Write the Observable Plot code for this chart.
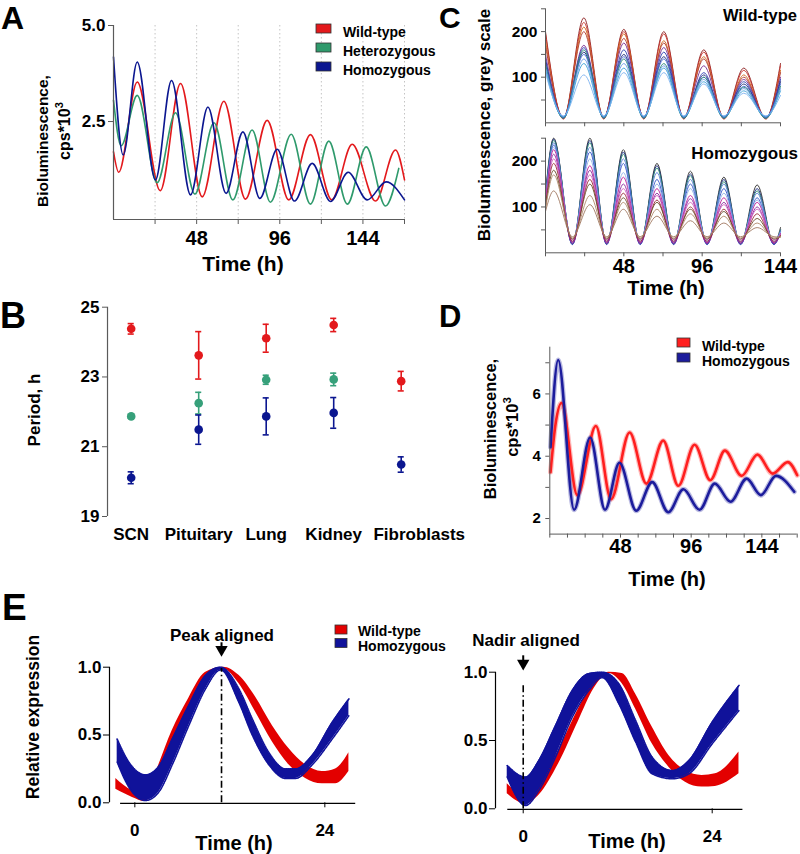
<!DOCTYPE html>
<html><head><meta charset="utf-8">
<script src="https://cdn.jsdelivr.net/npm/d3@7"></script>
<script src="https://cdn.jsdelivr.net/npm/@observablehq/plot@0.6"></script>
<style>
body{margin:0;background:#fff;}
#fig{position:relative;width:800px;height:854px;overflow:hidden;background:#fff;}
</style></head>
<body><div id="fig"></div>
<script>
// ---------------- DATA ----------------
// Panel A: bioluminescence (cps*10^3), extrema
const aGenotypes = ["Wild-type", "Heterozygous", "Homozygous"];
const aColors = ["#e3191c", "#2f9a6c", "#0b1690"];
const aWtT = [0, 3, 13.7, 27, 38.7, 51.2, 63.7, 76.2, 88.7, 101.2, 113.7, 126, 137.8, 151.3, 162.8, 168];
const aWtV = [1.71, 1.18, 3.53, 0.70, 3.49, 0.54, 3.03, 0.48, 2.53, 0.46, 2.16, 0.46, 1.91, 0.43, 1.76, 0.98];
const aHetT = [0, 4.4, 13.7, 25.2, 35.8, 47, 58, 68.9, 80, 90.6, 102.6, 113.7, 124.3, 135, 145.9, 157, 164.7];
const aHetV = [3.05, 1.87, 3.18, 0.91, 2.73, 0.61, 2.47, 0.46, 2.28, 0.40, 2.17, 0.35, 1.99, 0.35, 1.84, 0.30, 1.28];
const aHomT = [0, 5.6, 13.7, 24.2, 33.5, 44.5, 54.5, 65, 74.7, 84.5, 94.5, 104.5, 114.7, 125.3, 135.5, 146.5, 157.4, 168];
const aHomV = [4.18, 1.63, 4.05, 0.98, 3.57, 0.59, 2.88, 0.63, 2.23, 0.50, 1.78, 0.43, 1.41, 0.42, 1.18, 0.46, 0.93, 0.46];
const aXTicks = [24, 48, 72, 96, 120, 144, 168];
const aXLabels = [48, 96, 144];
const aYTicks = [2.5, 5.0];

// Panel B: period (h) mean ± error
const bTissues = ["SCN", "Pituitary", "Lung", "Kidney", "Fibroblasts"];
const bWtMean = [24.38, 23.62, 24.11, 24.49, 22.88];
const bWtErr = [0.15, 0.68, 0.40, 0.19, 0.28];
const bHetMean = [21.87, 22.25, 22.92, 22.93, null];
const bHetErr = [0.05, 0.31, 0.13, 0.18, null];
const bHomMean = [20.11, 21.49, 21.87, 21.97, 20.49];
const bHomErr = [0.17, 0.42, 0.53, 0.44, 0.22];
const bYTicks = [19, 21, 23, 25];

// Panel C: individual traces (grey scale); peak/trough heights per trace
const cWtPeakT = [23.5, 48, 72.5, 97, 121.5];
const cWtTroughT = [11, 35.7, 60.2, 84.7, 109.3, 135];
const cWtColors = ["#8b1c1c", "#c8332a", "#d2691e", "#b03a2e", "#7b2d8e", "#2f3fb0", "#1f2a7a", "#4a6fd8", "#2b8a78", "#6a9ce8", "#3aa0d8", "#7db3f0"];
const cWtStart = [200, 195, 180, 170, 150, 140, 135, 130, 128, 120, 115, 110];
const cWtPeaks = [
  [230, 205, 200, 160, 120], [220, 200, 195, 155, 115], [210, 195, 180, 145, 105],
  [200, 185, 175, 140, 100], [170, 175, 165, 125, 95], [165, 160, 155, 110, 90],
  [155, 150, 145, 105, 85], [150, 145, 140, 100, 80], [160, 140, 130, 100, 78],
  [140, 130, 125, 95, 75], [130, 120, 120, 90, 70], [105, 110, 110, 85, 65]];
const cWtTrough = [10, 8, 10, 12, 12, 10, 12, 14, 10, 14, 12, 15];
const cWtEnd = [130, 125, 115, 110, 100, 95, 90, 85, 80, 75, 70, 60];

const cHomPeakT = [5, 27.2, 47.7, 68.3, 88.8, 109.3, 129.7];
const cHomTroughT = [16.5, 37.5, 58, 78.5, 99, 119.5, 140];
const cHomColors = ["#2a2a2a", "#1b2a80", "#2e8b6e", "#5b7fd8", "#3556c8", "#8fb0e8", "#c0209a", "#8a2ca0", "#d060c0", "#9a2a3a", "#6a4a2a", "#b08a6a", "#a07860"];
const cHomStart = [130, 125, 120, 118, 115, 112, 110, 108, 105, 102, 100, 95, 90];
const cHomPeaks = [
  [250, 250, 225, 195, 178, 165, 148], [248, 245, 220, 190, 172, 160, 140],
  [245, 240, 215, 185, 168, 155, 135], [240, 230, 205, 175, 160, 150, 130],
  [235, 220, 195, 160, 150, 140, 120], [230, 205, 175, 150, 140, 130, 115],
  [225, 190, 165, 140, 125, 120, 110], [215, 180, 150, 130, 118, 110, 100],
  [205, 170, 140, 125, 110, 105, 95], [195, 160, 130, 115, 100, 95, 85],
  [180, 150, 120, 110, 95, 90, 75], [170, 125, 110, 95, 85, 80, 65],
  [135, 105, 95, 80, 70, 65, 55]];
const cHomTrough = [20, 18, 20, 22, 18, 25, 22, 20, 28, 25, 30, 32, 35];
const cHomEnd = [55, 50, 50, 48, 45, 45, 42, 40, 40, 38, 36, 35, 34];
const cXTicks = [0, 24, 48, 72, 96, 120, 144];
const cXLabels = [48, 96, 144];
const cYTicks = [50, 100, 150, 200, 250];

// Panel D: bioluminescence (cps*10^3)
const dGenotypes = ["Wild-type", "Homozygous"];
const dWtT = [0.5, 3.9, 8, 18.7, 31.3, 41.6, 54.2, 65.6, 77, 87.3, 98.3, 109, 118.9, 130.3, 141, 151.3, 161.6, 168];
const dWtV = [3.49, 5.03, 5.71, 2.75, 4.97, 2.62, 4.76, 3.12, 4.50, 3.05, 4.37, 3.23, 4.18, 3.37, 4.05, 3.44, 3.81, 3.39];
const dHomT = [0.5, 5.7, 16.5, 27.4, 37.5, 47.3, 58.7, 69.5, 80.5, 90.7, 101.7, 112, 122.7, 133.7, 143.3, 153.6, 166];
const dHomV = [4.29, 7.09, 2.28, 4.60, 2.28, 3.79, 2.25, 3.17, 2.20, 2.94, 2.28, 3.12, 2.54, 3.28, 2.75, 3.37, 2.86];
const dXTicks = [0, 12, 24, 36, 48, 60, 72, 84, 96, 108, 120, 132, 144, 156, 168];
const dXLabels = [48, 96, 144];
const dYTicks = [2, 3, 4, 5, 6, 7];

// Panel E: relative expression bands (lower, upper)
const eLWtT  = [-2.4, -0.3, 1.3, 2.6, 4.7, 6.8, 8.9, 11.2, 13.15, 15.25, 17.36, 19.46, 21.57, 23.67, 25.36, 27.04];
const eLWtLo = [0.10, 0.04, 0.01, 0.11, 0.40, 0.66, 0.89, 0.985, 0.88, 0.67, 0.45, 0.28, 0.18, 0.14, 0.14, 0.23];
const eLWtHi = [0.18, 0.09, 0.07, 0.22, 0.53, 0.77, 0.96, 1.00, 0.94, 0.78, 0.57, 0.40, 0.28, 0.23, 0.25, 0.37];
const eLHomT  = [-2.23, -0.75, 1.35, 3.04, 4.72, 6.82, 8.93, 10.83, 13.15, 14.83, 16.94, 19.04, 20.3, 22.4, 24.93, 27.04];
const eLHomLo = [0.30, 0.115, 0.017, 0.08, 0.28, 0.57, 0.84, 0.98, 0.74, 0.50, 0.28, 0.18, 0.18, 0.28, 0.47, 0.643];
const eLHomHi = [0.47, 0.30, 0.206, 0.27, 0.47, 0.72, 0.94, 1.00, 0.84, 0.62, 0.37, 0.25, 0.25, 0.35, 0.594, 0.766];
const eRWtT  = [-2.03, 0.29, 2, 4.5, 7, 9, 10.88, 12.57, 14.27, 16.38, 18.5, 20.6, 22.7, 24.4, 27.4];
const eRWtLo = [0.11, 0.036, 0.10, 0.33, 0.64, 0.88, 0.99, 0.915, 0.73, 0.476, 0.305, 0.195, 0.159, 0.164, 0.256];
const eRWtHi = [0.183, 0.097, 0.18, 0.43, 0.73, 0.94, 1.00, 0.99, 0.84, 0.598, 0.39, 0.28, 0.244, 0.256, 0.415];
const eRHomT  = [-2.03, 0.29, 1.98, 4.1, 6.22, 8.34, 10.03, 12.15, 14.27, 16.38, 18.93, 21.04, 24.0, 27.4];
const eRHomLo = [0.232, 0.024, 0.134, 0.378, 0.67, 0.866, 0.96, 0.768, 0.49, 0.256, 0.22, 0.256, 0.476, 0.72];
const eRHomHi = [0.317, 0.232, 0.354, 0.61, 0.866, 0.99, 1.00, 0.915, 0.647, 0.378, 0.28, 0.354, 0.635, 0.903];
const eYTicks = [0, 0.5, 1.0];
const eXTicks = [0, 24];
const eLeftAlignT = 10.95;   // peak aligned marker
const eRightAlignT = 0;      // nadir aligned marker

// ---------------- HELPERS ----------------
const FONT = "'Liberation Sans', Arial, Helvetica, sans-serif";
const baseStyle = {fontFamily: FONT, fontWeight: "bold", fontSize: "17px", color: "#000", background: "none", overflow: "visible"};
const fig = document.getElementById("fig");
function place(node, left, top) {
  node.style.position = "absolute";
  node.style.left = left + "px";
  node.style.top = top + "px";
  fig.appendChild(node);
  return node;
}
const rows = (t, v, extra) => t.map((tt, i) => ({t: tt, v: v[i], ...extra}));
const band = (t, lo, hi, g) => t.map((tt, i) => ({t: tt, lo: lo[i], hi: hi[i], g}));
const AX = "#5a5a5a";

// ---------------- PANEL A ----------------
const aRows = [
  ...rows(aWtT, aWtV, {g: aGenotypes[0]}),
  ...rows(aHetT, aHetV, {g: aGenotypes[1]}),
  ...rows(aHomT, aHomV, {g: aGenotypes[2]})
];
place(Plot.plot({
  width: 420, height: 270, marginLeft: 113, marginRight: 16, marginTop: 25, marginBottom: 51,
  style: baseStyle,
  x: {domain: [0, 168], label: null},
  y: {domain: [-0.05, 5], label: null},
  color: {domain: aGenotypes, range: aColors},
  marks: [
    Plot.ruleX(aXTicks, {stroke: "#c4c4c4", strokeDasharray: "1.5,2.5"}),
    Plot.line(aRows, {x: "t", y: "v", z: "g", stroke: "g", strokeWidth: 1.6, curve: "monotone-x"}),
    Plot.ruleX([0], {stroke: AX, strokeWidth: 1.2}),
    Plot.ruleY([-0.05], {stroke: AX, strokeWidth: 1.2}),
    Plot.axisY({ticks: aYTicks, tickFormat: d => d.toFixed(1), tickSize: 5, tickPadding: 3, fontSize: 17, stroke: AX, fill: "#000", label: null}),
    Plot.axisX({ticks: aXTicks, tickFormat: d => aXLabels.includes(d) ? String(d) : "", tickSize: 5, tickPadding: 6, fontSize: 20, stroke: AX, fill: "#000", label: null})
  ]
}), 0, 0);

// ---------------- PANEL B ----------------
const bColors = ["#e3191c", "#36a07a", "#0b1690"];
const bRows = [];
[[bWtMean, bWtErr], [bHetMean, bHetErr], [bHomMean, bHomErr]].forEach(([m, e], gi) => {
  bTissues.forEach((tis, i) => {
    if (m[i] != null) bRows.push({i, tissue: tis, g: aGenotypes[gi], mean: m[i], lo: m[i] - e[i], hi: m[i] + e[i]});
  });
});
const bCap = 0.045; // half-width of error-bar caps, in category units
place(Plot.plot({
  width: 470, height: 300, marginLeft: 107, marginRight: 0, marginTop: 36.7, marginBottom: 54,
  style: baseStyle,
  x: {domain: [0, 4], range: [130.7, 400.7], label: null},
  y: {domain: [19, 25], label: null},
  color: {domain: aGenotypes, range: bColors},
  marks: [
    Plot.ruleX(bRows, {x: "i", y1: "lo", y2: "hi", stroke: "g", strokeWidth: 1.6}),
    Plot.ruleY(bRows, {y: "lo", x1: d => d.i - bCap, x2: d => d.i + bCap, stroke: "g", strokeWidth: 1.6}),
    Plot.ruleY(bRows, {y: "hi", x1: d => d.i - bCap, x2: d => d.i + bCap, stroke: "g", strokeWidth: 1.6}),
    Plot.dot(bRows, {x: "i", y: "mean", fill: "g", r: 4.3}),
    Plot.ruleX([-0.351], {y1: 19, y2: 25, stroke: AX, strokeWidth: 1.2}),
    Plot.axisY({ticks: bYTicks, tickFormat: d => String(d), tickSize: 5, tickPadding: 3, fontSize: 17, stroke: AX, fill: "#000", label: null}),
    Plot.axisX({ticks: [0, 1, 2, 3], tickFormat: i => bTissues[i], tickSize: 0, tickPadding: 11, fontSize: 17, fill: "#000", label: null}),
    Plot.axisX({ticks: [4], tickFormat: i => bTissues[i], tickSize: 0, tickPadding: 11, dx: 18, fontSize: 17, fill: "#000", label: null})
  ]
}), 0, 270);

// ---------------- PANEL C ----------------
function wtTrace(i) {
  const t = [0], v = [cWtStart[i]];
  cWtTroughT.forEach((tt, k) => {
    t.push(tt); v.push(cWtTrough[i]);
    if (k < cWtPeakT.length) { t.push(cWtPeakT[k]); v.push(cWtPeaks[i][k]); }
  });
  t.push(144); v.push(cWtEnd[i]);
  return rows(t, v, {});
}
function homTrace(i) {
  const t = [0], v = [cHomStart[i]];
  cHomPeakT.forEach((tt, k) => {
    t.push(tt); v.push(cHomPeaks[i][k]);
    t.push(cHomTroughT[k]); v.push(cHomTrough[i]);
  });
  t.push(144); v.push(cHomEnd[i]);
  return rows(t, v, {});
}
const cCommonY = {domain: [0, 250], label: null};
place(Plot.plot({
  width: 400, height: 135, marginLeft: 145, marginRight: 20, marginTop: 8.3, marginBottom: 12.7,
  style: baseStyle,
  x: {domain: [0, 144], label: null},
  y: cCommonY,
  marks: [
    ...cWtColors.map((c, i) => Plot.line(wtTrace(i), {x: "t", y: "v", stroke: c, strokeWidth: 1, strokeOpacity: 0.9, curve: "monotone-x"})),
    Plot.ruleX([0], {stroke: AX}),
    Plot.ruleY([0], {stroke: AX}),
    Plot.axisY({ticks: cYTicks, tickFormat: d => d % 100 === 0 ? String(d) : "", tickSize: 4, tickPadding: 4, fontSize: 15.5, stroke: AX, fill: "#000", label: null}),
    Plot.axisX({ticks: cXTicks, tickFormat: () => "", tickSize: 4, stroke: AX, label: null})
  ]
}), 400, 0);
place(Plot.plot({
  width: 400, height: 165, marginLeft: 145, marginRight: 20, marginTop: 7.7, marginBottom: 42.7,
  style: baseStyle,
  x: {domain: [0, 144], label: null},
  y: cCommonY,
  marks: [
    ...cHomColors.map((c, i) => Plot.line(homTrace(i), {x: "t", y: "v", stroke: c, strokeWidth: 1, strokeOpacity: 0.9, curve: "monotone-x"})),
    Plot.ruleX([0], {stroke: AX}),
    Plot.ruleY([0], {stroke: AX}),
    Plot.axisY({ticks: cYTicks, tickFormat: d => d % 100 === 0 ? String(d) : "", tickSize: 4, tickPadding: 4, fontSize: 15.5, stroke: AX, fill: "#000", label: null}),
    Plot.axisX({ticks: cXTicks, tickFormat: d => cXLabels.includes(d) ? String(d) : "", tickSize: 4, tickPadding: 2, fontSize: 20, stroke: AX, fill: "#000", label: null})
  ]
}), 400, 130);

// ---------------- PANEL D ----------------
const dColors = ["#ff1f1f", "#1c1c9c"];
const dRows = [...rows(dWtT, dWtV, {g: dGenotypes[0]}), ...rows(dHomT, dHomV, {g: dGenotypes[1]})];
place(Plot.plot({
  width: 400, height: 260, marginLeft: 149.3, marginRight: 3.3, marginTop: 46.7, marginBottom: 26.4,
  style: baseStyle,
  x: {domain: [0, 168], label: null},
  y: {domain: [1.5, 7.5], label: null},
  color: {domain: dGenotypes, range: dColors},
  marks: [
    Plot.line(dRows, {x: "t", y: "v", z: "g", stroke: "g", strokeWidth: 5, strokeOpacity: 0.3, curve: "monotone-x"}),
    Plot.line(dRows, {x: "t", y: "v", z: "g", stroke: "g", strokeWidth: 2.6, curve: "monotone-x"}),
    Plot.ruleX([0], {stroke: AX}),
    Plot.ruleY([1.5], {stroke: AX}),
    Plot.axisY({ticks: dYTicks, tickFormat: d => d % 2 === 0 ? String(d) : "", tickSize: 4, tickPadding: 5, fontSize: 15, stroke: AX, fill: "#000", label: null}),
    Plot.axisX({ticks: dXTicks, tickFormat: d => dXLabels.includes(d) ? String(d) : "", tickSize: 4, tickPadding: 1, fontSize: 20, stroke: AX, fill: "#000", label: null})
  ]
}), 400, 300);

// ---------------- PANEL E ----------------
const eColors = ["#e30000", "#10129a"];
function panelE({wt, hom, marginLeft, marginRight, marginTop, marginBottom, xDomain, axisX1, alignT, alignTop, arrowTop, arrowTip}) {
  return Plot.plot({
    width: 400, height: 214, marginLeft, marginRight, marginTop, marginBottom,
    style: baseStyle,
    x: {domain: xDomain, label: null},
    y: {domain: [0, 1], label: null},
    color: {domain: dGenotypes, range: eColors},
    marks: [
      Plot.areaY(wt, {x: "t", y1: "lo", y2: "hi", fill: "g", curve: "monotone-x"}),
      Plot.areaY(hom, {x: "t", y1: "lo", y2: "hi", fill: "g", curve: "monotone-x"}),
      Plot.line(hom, {x: "t", y: "lo", stroke: "g", strokeWidth: 1.6, strokeDasharray: "1,1", curve: "monotone-x"}),
      Plot.line(hom, {x: "t", y: "hi", stroke: "g", strokeWidth: 1.6, strokeDasharray: "1,1", curve: "monotone-x"}),
      Plot.ruleX([alignT], {y1: 0, y2: alignTop, stroke: "#000", strokeWidth: 1.6, strokeDasharray: "7,3,1.5,3"}),
      Plot.ruleX([alignT], {y1: arrowTip + 0.04, y2: arrowTop, stroke: "#000", strokeWidth: 2}),
      Plot.dot([alignT], {x: d => d, y: arrowTip + 0.03, symbol: "triangle", rotate: 180, r: 4.6, fill: "#000"}),
      Plot.ruleX([xDomain[0]], {y1: 0, y2: 1, stroke: "#000", strokeWidth: 1.2}),
      Plot.ruleY([0], {x1: axisX1[0], x2: axisX1[1], dy: 0.5, stroke: "#000", strokeWidth: 1.2}),
      Plot.axisY({ticks: eYTicks, tickFormat: d => d.toFixed(1), tickSize: 6, tickPadding: 2, fontSize: 17, stroke: "#000", fill: "#000", label: null}),
      Plot.axisX({ticks: eXTicks, tickFormat: d => String(d), tickSize: 5, tickPadding: 16.5, fontSize: 17, stroke: "#000", fill: "#000", label: null})
    ]
  });
}
place(panelE({
  wt: band(eLWtT, eLWtLo, eLWtHi, dGenotypes[0]),
  hom: band(eLHomT, eLHomLo, eLHomHi, dGenotypes[1]),
  marginLeft: 109, marginRight: 44, marginTop: 26.7, marginBottom: 51.7,
  xDomain: [-3.2, 28.0], axisX1: [-1.8, 27.9], alignT: eLeftAlignT, alignTop: 0.99, arrowTop: 1.18, arrowTip: 1.10
}), 0, 640);
place(panelE({
  wt: band(eRWtT, eRWtLo, eRWtHi, dGenotypes[0]),
  hom: band(eRHomT, eRHomLo, eRHomHi, dGenotypes[1]),
  marginLeft: 95, marginRight: 56.8, marginTop: 31.7, marginBottom: 45.7,
  xDomain: [-3.52, 28.0], axisX1: [-1.96, 27.9], alignT: eRightAlignT, alignTop: 0.917, arrowTop: 1.12, arrowTip: 1.035
}), 400, 640);

// ---------------- OVERLAY TEXT & LEGENDS ----------------
const ov = d3.create("svg").attr("width", 800).attr("height", 854)
  .attr("font-family", FONT).attr("font-weight", "bold");
ov.style("position", "absolute").style("left", "0px").style("top", "0px").style("pointer-events", "none");
function txt(s, x, y, size, anchor = "start", rotate = 0) {
  const t = ov.append("text").attr("x", x).attr("y", y).attr("font-size", size).attr("text-anchor", anchor).attr("fill", "#000").text(s);
  if (rotate) t.attr("transform", `rotate(${rotate},${x},${y})`);
  return t;
}
function supText(base, sup, x, y, size, rotate) {
  const t = ov.append("text").attr("x", x).attr("y", y).attr("font-size", size).attr("text-anchor", "middle")
    .attr("fill", "#000").attr("transform", `rotate(${rotate},${x},${y})`);
  t.append("tspan").text(base);
  t.append("tspan").attr("dy", -size * 0.42).attr("font-size", size * 0.7).text(sup);
  return t;
}
function legend(names, colors, boxX, boxTops, textX, baselines, size, bw, bh) {
  names.forEach((n, i) => {
    ov.append("rect").attr("x", boxX).attr("y", boxTops[i]).attr("width", bw).attr("height", bh)
      .attr("fill", colors[i]).attr("stroke", "#333").attr("stroke-width", 0.8);
    txt(n, textX, baselines[i], size);
  });
}
// A
txt("A", 1, 29, 32);
txt("Bioluminescence,", 47.5, 141, 15.5, "middle", -90);
supText("cps*10", "3", 70, 131, 16, -90);
txt("Time (h)", 243, 271, 21, "middle");
legend(aGenotypes, aColors, 316, [24, 43, 62], 343, [36.5, 55.5, 74.5], 14, 15, 9);
// B
txt("B", 0, 328, 36);
txt("Period, h", 40, 410, 17, "middle", -90);
// C
txt("C", 439, 28, 30);
txt("Wild-type", 797, 21, 16.5, "end");
txt("Homozygous", 798, 158.5, 17, "end");
txt("Bioluminescence, grey scale", 490, 125, 17, "middle", -90);
txt("Time (h)", 666, 295, 20, "middle");
// D
txt("D", 439, 327, 31);
txt("Bioluminescence,", 496, 429, 16.5, "middle", -90);
supText("cps*10", "3", 518, 427, 16.5, -90);
txt("Time (h)", 667, 586, 20, "middle");
legend(dGenotypes, dColors, 677, [338, 353], 702, [350.5, 365.5], 14, 13, 9);
// E
txt("E", 2, 620, 37);
txt("Relative expression", 39, 717, 17.5, "middle", -90);
txt("Peak aligned", 222, 641, 17, "middle");
txt("Nadir aligned", 526, 645.5, 17, "middle");
txt("Time (h)", 234, 849.5, 20, "middle");
txt("Time (h)", 627, 848, 20, "middle");
legend(dGenotypes, eColors, 335, [625, 638.5], 358, [636, 650.5], 14, 12, 9);
fig.appendChild(ov.node());
</script>
</body></html>
